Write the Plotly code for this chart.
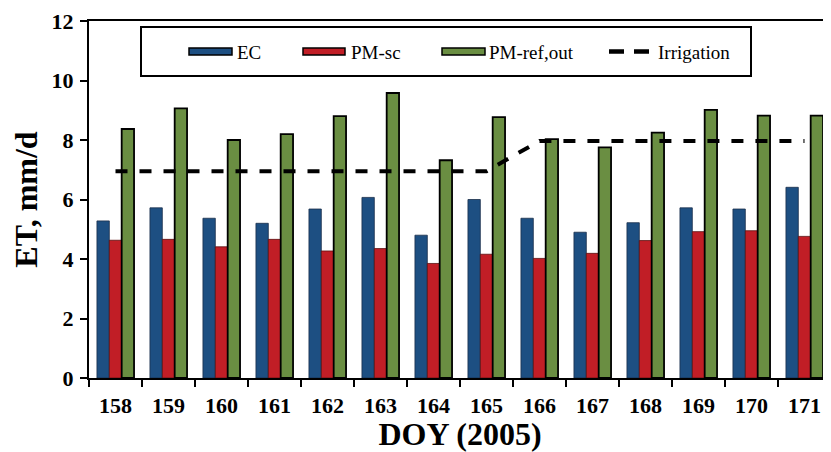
import plotly.graph_objects as go

doy = ["158", "159", "160", "161", "162", "163", "164", "165", "166", "167", "168", "169", "170", "171"]
ec = [5.28, 5.72, 5.37, 5.20, 5.68, 6.07, 4.80, 6.00, 5.37, 4.90, 5.22, 5.72, 5.68, 6.41]
pm_sc = [4.63, 4.66, 4.41, 4.66, 4.27, 4.35, 3.85, 4.16, 4.02, 4.19, 4.62, 4.92, 4.95, 4.76]
pm_ref = [8.37, 9.06, 8.00, 8.20, 8.80, 9.58, 7.32, 8.77, 8.03, 7.75, 8.25, 9.01, 8.82, 8.82]
irrigation = [6.95, 6.95, 6.95, 6.95, 6.95, 6.95, 6.95, 6.95, 7.97, 7.97, 7.97, 7.97, 7.97, 7.97]
series_names = ["EC", "PM-sc", "PM-ref,out", "Irrigation"]

FONT = "Liberation Serif"
C_EC, C_SC, C_REF = "#1D4F82", "#C11E26", "#6A8E42"

# the page body has an 8px default margin; size the figure so the plot lands where the original is
OFF = 8
W, H = 831 - OFF, 452 - OFF
ML, MR, MT, MB = 89 - OFF, 0, 21 - OFF, 74
PW, PH = W - ML - MR, H - MT - MB


def px(xp):
    return (xp - OFF - ML) / PW


def py(yp):
    return (H - MB - (yp - OFF)) / PH


fig = go.Figure()
fig.add_trace(go.Bar(x=doy, y=ec, name=series_names[0],
                     marker=dict(color=C_EC, line=dict(color="#1a2f4a", width=0.8))))
fig.add_trace(go.Bar(x=doy, y=pm_sc, name=series_names[1],
                     marker=dict(color=C_SC, line=dict(color="#5a1010", width=0.8))))
fig.add_trace(go.Bar(x=doy, y=pm_ref, name=series_names[2],
                     marker=dict(color=C_REF, line=dict(color="black", width=1.8))))
fig.add_trace(go.Scatter(x=doy, y=irrigation, name=series_names[3], mode="lines",
                         line=dict(color="black", width=4, dash="12px,12px")))

# legend box drawn in the style of the original (wide swatches, framed)
shapes = [dict(type="rect", xref="paper", yref="paper", x0=px(141), x1=px(751), y0=py(76), y1=py(27),
               line=dict(color="black", width=2), fillcolor="white", layer="above")]
annotations = []
sw_y0, sw_y1 = py(55), py(48)
legend_items = [(189, 232, 235, C_EC), (303, 345, 349, C_SC), (442, 485, 487, C_REF)]
for (a, b, t, c), name in zip(legend_items, series_names[:3]):
    shapes.append(dict(type="rect", xref="paper", yref="paper", x0=px(a), x1=px(b), y0=sw_y0, y1=sw_y1,
                       line=dict(color="black", width=1.5), fillcolor=c, layer="above"))
    annotations.append(dict(xref="paper", yref="paper", x=px(t), y=py(52), xanchor="left", yanchor="middle",
                            text=name, showarrow=False, font=dict(family=FONT, size=19, color="black")))
shapes.append(dict(type="line", xref="paper", yref="paper", x0=px(609), x1=px(651), y0=py(51.5), y1=py(51.5),
                   line=dict(color="black", width=4.5, dash="15px,10px"), layer="above"))
annotations.append(dict(xref="paper", yref="paper", x=px(656), y=py(52), xanchor="left", yanchor="middle",
                        text=series_names[3], showarrow=False, font=dict(family=FONT, size=19, color="black")))

fig.update_layout(
    width=W, height=H,
    margin=dict(l=ML, r=MR, t=MT, b=MB, autoexpand=False),
    paper_bgcolor="white", plot_bgcolor="white",
    barmode="group", bargap=0.3, bargroupgap=0,
    font=dict(family=FONT, color="black"),
    showlegend=False,
    shapes=shapes,
    annotations=annotations,
    xaxis=dict(
        type="category", tickson="boundaries", ticks="outside", ticklen=7, tickwidth=2,
        tickcolor="black", showline=True, linecolor="black", linewidth=2, mirror=True,
        showgrid=False, zeroline=False, automargin=False, ticklabelstandoff=7,
        tickfont=dict(family=FONT, size=22, color="black", weight="bold"),
        title=dict(text="<b>DOY (2005)</b>", font=dict(family=FONT, size=32, color="black"), standoff=4),
    ),
    yaxis=dict(
        range=[0, 12], dtick=2, ticks="outside", ticklen=7, tickwidth=2, tickcolor="black",
        showline=True, linecolor="black", linewidth=2, showgrid=False, zeroline=False,
        automargin=False, ticklabelstandoff=2,
        tickfont=dict(family=FONT, size=22, color="black", weight="bold"),
        title=dict(text="<b>ET, mm/d</b>", font=dict(family=FONT, size=32, color="black"), standoff=12),
    ),
)

fig.write_html("out.html")
